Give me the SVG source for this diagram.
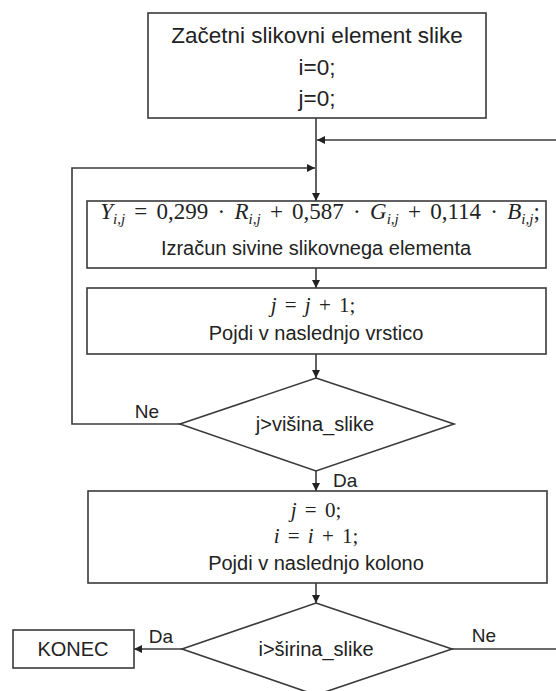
<svg xmlns="http://www.w3.org/2000/svg" width="556" height="691" viewBox="0 0 556 691">
<style>
.box{fill:#fff;stroke:#3a3a3a;stroke-width:1.6}
.ln{fill:none;stroke:#3a3a3a;stroke-width:1.6}
.t{font-family:"Liberation Sans",Arial,sans-serif;font-size:20px;fill:#222;text-anchor:middle}
.big{font-size:22.5px}
.m{font-family:"Liberation Serif","Times New Roman",serif;font-size:21px;fill:#222;text-anchor:middle;word-spacing:3px}
.f{font-size:23px;word-spacing:3.5px}
.i{font-style:italic}
.s{font-size:15px;font-style:italic}
.l{font-family:"Liberation Sans",Arial,sans-serif;font-size:19px;fill:#222}
</style>
<defs>
<marker id="a" viewBox="0 0 10 10" refX="10" refY="5" markerWidth="8" markerHeight="8" markerUnits="userSpaceOnUse" orient="auto">
<path d="M0,0 L10,5 L0,10 z" fill="#222"/>
</marker>
</defs>
<rect width="556" height="691" fill="#fff"/>
<g id="connectors">
<line class="ln" x1="316" y1="118" x2="316" y2="201" marker-end="url(#a)"/>
<line class="ln" x1="556" y1="140" x2="317" y2="140" marker-end="url(#a)"/>
<polyline class="ln" points="180,424 72,424 72,168 315,168" marker-end="url(#a)"/>
<line class="ln" x1="316" y1="268" x2="316" y2="288" marker-end="url(#a)"/>
<line class="ln" x1="316" y1="354" x2="316" y2="378" marker-end="url(#a)"/>
<line class="ln" x1="316" y1="471" x2="316" y2="491" marker-end="url(#a)"/>
<line class="ln" x1="316" y1="583" x2="316" y2="603" marker-end="url(#a)"/>
<line class="ln" x1="182" y1="649" x2="134" y2="649" marker-end="url(#a)"/>
<line class="ln" x1="452" y1="649" x2="556" y2="649"/>
<text class="l" x="147" y="418" text-anchor="middle">Ne</text>
<text class="l" x="333" y="487">Da</text>
<text class="l" x="161" y="643" text-anchor="middle">Da</text>
<text class="l" x="484" y="642" text-anchor="middle">Ne</text>
</g>
<g id="start">
<rect class="box" x="148" y="13" width="338" height="105"/>
<text class="t big" x="317" y="43">Začetni slikovni element slike</text>
<text class="t big" x="317" y="75">i=0;</text>
<text class="t big" x="317" y="106">j=0;</text>
</g>
<g id="gray">
<rect class="box" x="87" y="201" width="459" height="67"/>
<text class="m f" x="320" y="219"><tspan class="i">Y</tspan><tspan class="s" dy="5">i,j</tspan><tspan dy="-5"> = 0,299 · </tspan><tspan class="i">R</tspan><tspan class="s" dy="5">i,j</tspan><tspan dy="-5"> + 0,587 · </tspan><tspan class="i">G</tspan><tspan class="s" dy="5">i,j</tspan><tspan dy="-5"> + 0,114 · </tspan><tspan class="i">B</tspan><tspan class="s" dy="5">i,j</tspan><tspan dy="-5">;</tspan></text>
<text class="t" x="316" y="255">Izračun sivine slikovnega elementa</text>
</g>
<g id="nextrow">
<rect class="box" x="87" y="288" width="459" height="66"/>
<text class="m" x="313" y="312"><tspan class="i">j</tspan> = <tspan class="i">j</tspan> + 1;</text>
<text class="t" x="316" y="340">Pojdi v naslednjo vrstico</text>
</g>
<g id="cond1">
<polygon class="box" points="316,378 454,424 316,471 180,424"/>
<text class="t" x="315" y="431">j&gt;višina_slike</text>
</g>
<g id="nextcol">
<rect class="box" x="88" y="491" width="459" height="92"/>
<text class="m" x="316" y="517"><tspan class="i">j</tspan> = 0;</text>
<text class="m" x="316" y="543"><tspan class="i">i</tspan> = <tspan class="i">i</tspan> + 1;</text>
<text class="t" x="316" y="570">Pojdi v naslednjo kolono</text>
</g>
<g id="cond2">
<polygon class="box" points="316,603 452,649 316,695 182,649"/>
<text class="t" x="316" y="656">i&gt;širina_slike</text>
</g>
<g id="end">
<rect class="box" x="13" y="630" width="121" height="38"/>
<text class="t" x="73" y="656">KONEC</text>
</g>
</svg>
